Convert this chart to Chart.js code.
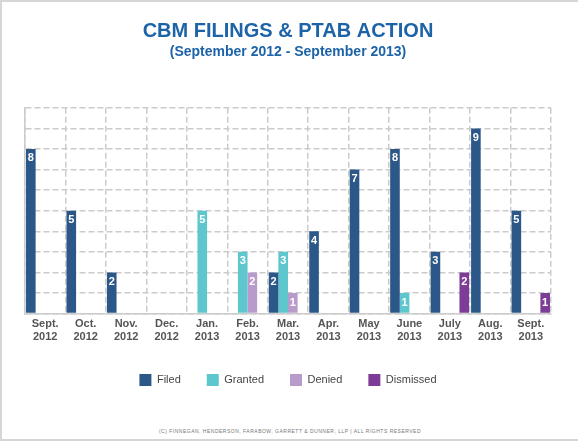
<!DOCTYPE html>
<html lang="en">
<head>
<meta charset="UTF-8">
<title>CBM Filings & PTAB Action</title>
<script src="https://cdn.jsdelivr.net/npm/chart.js"></script>
<style>
  html, body { margin: 0; padding: 0; background: #fff; }
  #wrap { position: relative; width: 576px; height: 437px; border: 2px solid #d6d6d6; border-right: none; }
  #foot { position: absolute; left: 0; width: 100%; top: 426px; text-align: center; font: 5px "Liberation Sans", Arial, sans-serif; color: #777; letter-spacing: 0.5px; }
</style>
</head>
<body>
<div id="wrap">
  <canvas id="chart" width="576" height="420"></canvas>
  <div id="foot">(C) FINNEGAN, HENDERSON, FARABOW, GARRETT &amp; DUNNER, LLP | ALL RIGHTS RESERVED</div>
</div>
<script>
const months = [['Sept.','2012'],['Oct.','2012'],['Nov.','2012'],['Dec.','2012'],['Jan.','2013'],['Feb.','2013'],['Mar.','2013'],['Apr.','2013'],['May','2013'],['June','2013'],['July','2013'],['Aug.','2013'],['Sept.','2013']];
const filed     = [8, 5, 2, null, null, null, 2, 4, 7, 8, 3, 9, 5];
const granted   = [null, null, null, null, 5, 3, 3, null, null, 1, null, null, null];
const denied    = [null, null, null, null, null, 2, 1, null, null, null, null, null, null];
const dismissed = [null, null, null, null, null, null, null, null, null, null, 2, null, 1];

// white value label at top of each bar
const barLabels = {
  id: 'barLabels',
  afterDatasetsDraw(chart) {
    const ctx = chart.ctx;
    ctx.save();
    ctx.fillStyle = '#fff';
    ctx.font = 'bold 11px "Liberation Sans", Arial, sans-serif';
    ctx.textAlign = 'center';
    ctx.textBaseline = 'top';
    chart.data.datasets.forEach((ds, i) => {
      chart.getDatasetMeta(i).data.forEach((bar, j) => {
        if (ds.data[j] == null) return;
        ctx.fillText(ds.data[j], bar.x, bar.y + 4);
      });
    });
    ctx.restore();
  }
};

const grid = { color: '#cbcbcb', lineWidth: 1.5, drawTicks: false };
const border = { display: true, color: '#cbcbcb', width: 1.5, dash: [6, 3] };

new Chart(document.getElementById('chart'), {
  type: 'bar',
  data: {
    labels: months,
    datasets: [
      { label: 'Filed', data: filed, backgroundColor: '#2b5888' },
      { label: 'Granted', data: granted, backgroundColor: '#5ec6cd' },
      { label: 'Denied', data: denied, backgroundColor: '#b99bcb' },
      { label: 'Dismissed', data: dismissed, backgroundColor: '#7d3d96' }
    ]
  },
  options: {
    responsive: false,
    animation: false,
    layout: { padding: { left: 23, right: 27, top: 0, bottom: 26 } },
    datasets: { bar: { categoryPercentage: 0.95, barPercentage: 1 } },
    scales: {
      x: {
        grid: Object.assign({ offset: true }, grid),
        border: border,
        ticks: { color: '#555', padding: 4, font: { family: '"Liberation Sans", Arial, sans-serif', size: 11, weight: 'bold' } }
      },
      y: {
        min: 0, max: 10,
        grid: grid,
        border: border,
        ticks: { display: false, stepSize: 1 }
      }
    },
    plugins: {
      title: {
        display: true,
        text: 'CBM FILINGS & PTAB ACTION',
        color: '#1c63a8',
        font: { family: '"Liberation Sans", Arial, sans-serif', size: 20, weight: 'bold' },
        padding: { top: 17, bottom: 1 }
      },
      subtitle: {
        display: true,
        text: '(September 2012 - September 2013)',
        color: '#1c63a8',
        font: { family: '"Liberation Sans", Arial, sans-serif', size: 14, weight: 'bold' },
        padding: { bottom: 47 }
      },
      legend: {
        position: 'bottom',
        labels: {
          boxWidth: 12, boxHeight: 12, padding: 26, color: '#444',
          font: { family: '"Liberation Sans", Arial, sans-serif', size: 11 }
        }
      },
      tooltip: { enabled: false }
    }
  },
  plugins: [barLabels]
});
</script>
</body>
</html>
